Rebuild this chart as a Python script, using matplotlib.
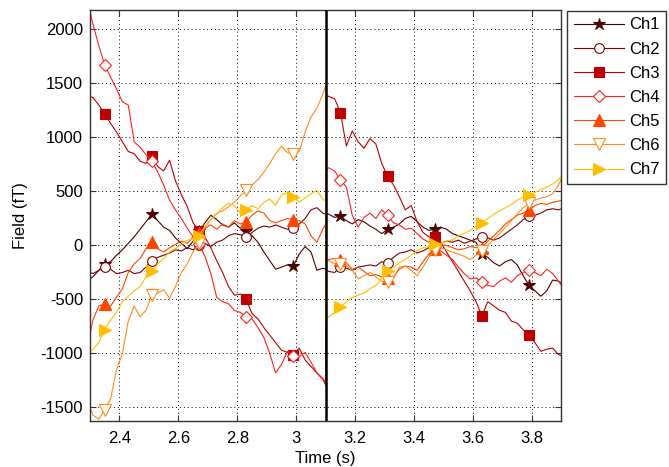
import numpy as np
import matplotlib
matplotlib.use("Agg")
import matplotlib.pyplot as plt
from matplotlib.ticker import FixedLocator, FixedFormatter

plt.rcParams['font.family'] = ['Liberation Sans', 'DejaVu Sans']
plt.rcParams['axes.unicode_minus'] = False

# time axis: two recordings joined at 3.1 s (3.10 appears twice -> jump)
t_a = np.round(np.r_[2.30, np.arange(2.31, 3.10, 0.02), 3.10], 2)
t_b = np.round(np.r_[3.10, np.arange(3.11, 3.90, 0.02), 3.90], 2)
t = np.r_[t_a, t_b]

labels = ['Ch1', 'Ch2', 'Ch3', 'Ch4', 'Ch5', 'Ch6', 'Ch7']

# field values (fT)
ch1 = [-310, -290, -230, -170, -150, -90, -40, 20, 80, 150, 220, 290,
       230, 170, 140, 70, 20, -30, 40, 130, 210, 280, 240, 190,
       170, 210, 160, 130, 90, 30, -60, -140, -220, -200, -180, -190,
       -80, -10, -60, -230, -210, -220,
       300, 290, 260, 270, 230, 200, 240, 220, 180, 150, 110, 150,
       170, 200, 250, 270, 220, 170, 140, 150, 170, 150, 110, 90,
       70, 50, 30, -80, -110, -160, -190, -150, -130, -180, -280, -370,
       -420, -470, -420, -320, -330, -350]
ch2 = [-250, -260, -230, -200, -220, -260, -250, -230, -260, -250, -200, -140,
       -110, -90, -70, -40, -50, -20, -40, 0, 20, -10, 30, 50,
       90, 110, 100, 80, 120, 160, 180, 170, 190, 170, 150, 160,
       200, 250, 330, 350, 300, 290,
       -230, -240, -250, -200, -210, -230, -200, -190, -180, -190, -150, -160,
       -110, -70, -60, -40, -70, -50, -20, 10, 20, 40, 30, 50,
       20, 40, 60, 80, 70, 50, 70, 110, 150, 190, 240, 270,
       280, 300, 330, 340, 330, 340]
ch3 = [1380, 1370, 1300, 1220, 1130, 1050, 960, 870, 850, 780, 760, 830,
       730, 690, 790, 600, 470, 360, 210, 130, 80, -20, -140, -250,
       -380, -460, -450, -500, -630, -680, -760, -830, -900, -970, -990, -1010,
       -950, -1060, -1120, -1180, -1240, -1290,
       1400, 1380, 1360, 1230, 920, 1060, 960, 900, 990, 940, 760, 640,
       560, 450, 330, 370, 220, 120, 80, 80, 30, -60, -150, -240,
       -330, -420, -520, -650, -520, -560, -600, -620, -700, -720, -780, -830,
       -900, -980, -960, -950, -1010, -1020]
ch4 = [2170, 2050, 1850, 1670, 1560, 1450, 1330, 1300, 960, 910, 840, 780,
       680, 560, 420, 330, 250, 160, 80, 10, -100, -260, -480, -520,
       -540, -600, -620, -660, -680, -760, -850, -1000, -1180, -1100, -980, -1020,
       -1030, -990, -1080, -1180, -1230, -1270,
       700, 720, 690, 610, 540, 280, 170, 260, 300, 250, 330, 280,
       210, 190, 150, 160, 110, 60, 30, -10, -50, -90, -130, -200,
       -260, -310, -300, -340, -370, -380, -330, -300, -340, -280, -250, -230,
       -250, -280, -220, -260, -330, -370]
ch5 = [-820, -690, -560, -540, -560, -480, -400, -250, -170, -120, -30, 30,
       -30, -60, -20, 10, 40, 20, 80, 120, 160, 190, 150, 200,
       170, 230, 200, 220, 280, 320, 300, 230, 210, 230, 250, 240,
       230, 200, 90, 30, 150, 200,
       -140, -130, -120, -130, -160, -220, -200, -240, -280, -270, -290, -300,
       -290, -220, -190, -200, -230, -150, -80, -30, 10, 0, -20, -40,
       -30, -10, -20, -20, 40, 90, 140, 200, 240, 280, 300, 330,
       370, 390, 380, 400, 410, 420]
ch6 = [-1500, -1570, -1610, -1520, -1420, -1150, -1000, -700, -560, -660, -600, -460,
       -440, -410, -490, -380, -250, -170, -60, 20, 170, 240, 300, 320,
       360, 400, 460, 510, 560, 610, 680, 760, 850, 920, 860, 850,
       870, 1050, 1190, 1270, 1400, 1480,
       -150, -140, -170, -170, -190, -230, -310, -280, -250, -290, -330, -340,
       -300, -200, -190, -230, -280, -200, -110, -40, -20, -40, -60, -80,
       -100, -130, -90, -50, 0, 60, 110, 170, 230, 290, 350, 390,
       420, 440, 450, 480, 560, 620]
ch7 = [-980, -960, -900, -780, -690, -620, -520, -470, -420, -380, -290, -240,
       -170, -120, -60, -30, 10, 50, 60, 90, 180, 240, 290, 350,
       390, 370, 300, 330, 370, 340, 400, 430, 370, 470, 490, 450,
       400, 440, 480, 510, 430, 410,
       -690, -660, -620, -570, -520, -480, -460, -440, -400, -370, -300, -240,
       -200, -160, -130, -90, -50, -20, -10, 10, 20, 40, 50, 90,
       110, 140, 180, 210, 250, 290, 320, 350, 380, 420, 450, 470,
       490, 520, 540, 570, 610, 640]

channels = [ch1, ch2, ch3, ch4, ch5, ch6, ch7]
colors = ['#4d0000', '#800000', '#bf0000', '#ff2020', '#ff4500', '#ff8c1a', '#ffbf00']
markers = ['*', 'o', 's', 'D', '^', 'v', '>']
faces = ['#4d0000', 'white', '#bf0000', 'white', '#ff4500', 'white', '#ffbf00']
sizes = [9, 7, 7, 6, 8, 8, 8]
mark_idx = [3, 11, 19, 27, 35, 45, 53, 61, 69, 77]

xticks = [2.4, 2.6, 2.8, 3.0, 3.2, 3.4, 3.6, 3.8]
xticklabels = ['2.4', '2.6', '2.8', '3', '3.2', '3.4', '3.6', '3.8']
yticks = [-1500, -1000, -500, 0, 500, 1000, 1500, 2000]

fig = plt.figure(figsize=(6.69, 4.67), dpi=100)
ax = fig.add_axes([0.1345, 0.0985, 0.7048, 0.880])

for y, lab, c, m, fc, ms in zip(channels, labels, colors, markers, faces, sizes):
    ax.plot(t, y, color=c, lw=0.8, marker=m, markevery=mark_idx,
            markersize=ms, markerfacecolor=fc, markeredgecolor=c,
            markeredgewidth=0.8, label=lab)

ax.axvline(3.1, color='k', lw=1.8, zorder=5)

ax.set_xlim(2.3, 3.9)
ax.set_ylim(-1625, 2180)
ax.xaxis.set_major_locator(FixedLocator(xticks))
ax.xaxis.set_major_formatter(FixedFormatter(xticklabels))
ax.yaxis.set_major_locator(FixedLocator(yticks))
ax.grid(True, color='k', linestyle=(0, (1, 3)), lw=0.7)
ax.tick_params(direction='in', top=True, right=True, length=4,
               labelsize=12, color='#333333')
ax.tick_params(axis='x', pad=7)
ax.tick_params(axis='y', pad=5)
for sp in ax.spines.values():
    sp.set_color('#333333')
    sp.set_linewidth(1.0)

ax.set_xlabel('Time (s)', fontsize=12, labelpad=4)
ax.set_ylabel('Field (fT)', fontsize=12, labelpad=9)

leg = fig.legend(loc='upper left', bbox_to_anchor=(0.8475, 0.977),
                 fontsize=12, handlelength=3.0, handletextpad=0.3,
                 labelspacing=0.55, borderpad=0.4, borderaxespad=0,
                 fancybox=False, framealpha=1, edgecolor='#333333')
leg.get_frame().set_linewidth(1.0)

fig.savefig('out.png', dpi=100)
